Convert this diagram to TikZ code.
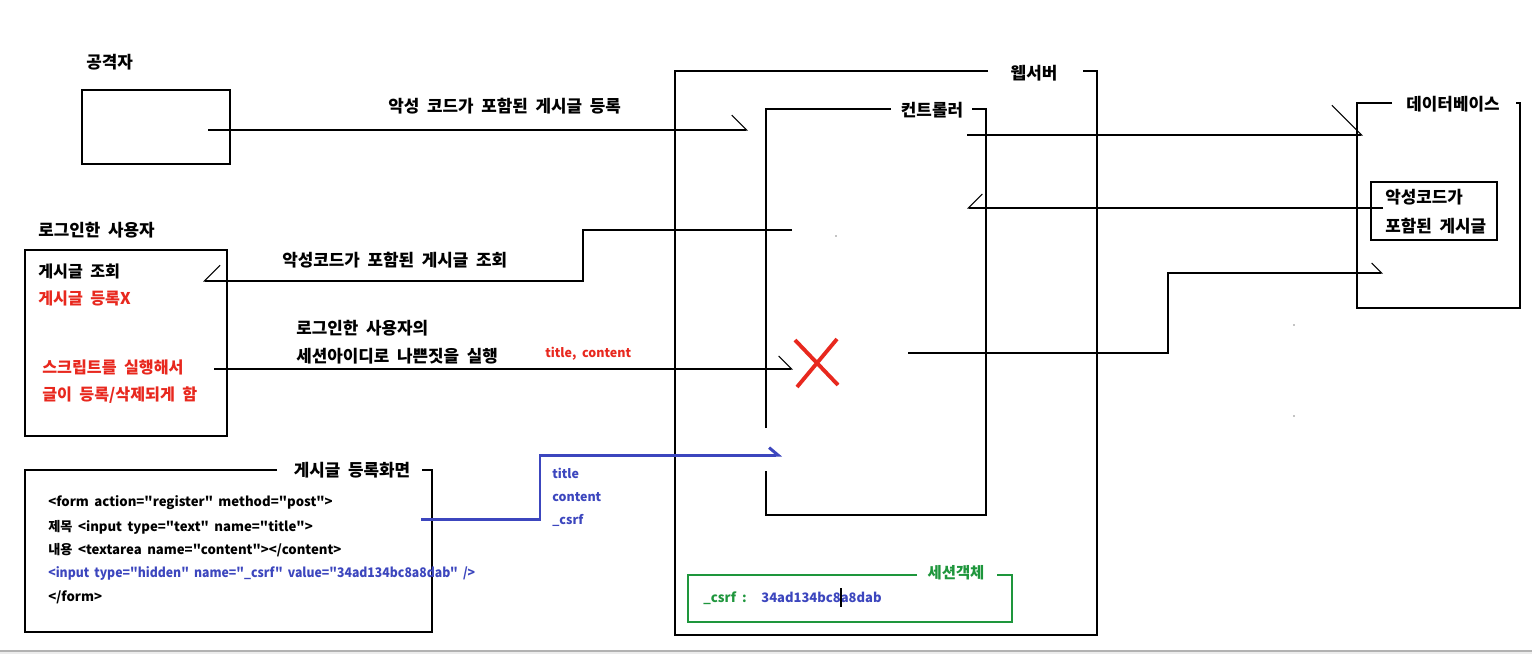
\documentclass[tikz,border=0pt]{standalone}
\usepackage{fontspec}
\setmainfont{Noto Sans CJK KR}[WordSpace=2]
\newfontfamily\codefont{Noto Sans CJK KR}[WordSpace=1.8]
\usetikzlibrary{arrows.meta,fit}
\definecolor{redx}{RGB}{232,40,30}
\definecolor{blu}{RGB}{60,70,190}
\definecolor{grn}{RGB}{30,150,60}
\begin{document}
\begin{tikzpicture}[x=0.02cm,y=-0.02cm,
  box/.style={draw,line width=0.7pt,inner sep=0pt},
  ln/.style={line width=0.6pt},
  kfont/.style={font=\bfseries\fontsize{9.6}{11}\selectfont},
  lbl/.style={inner sep=0pt,anchor=west,kfont},
  ttl/.style={inner sep=0pt,kfont},
  small/.style={inner sep=0pt,anchor=west,font=\codefont\bfseries\fontsize{7.5}{9}\selectfont},
  tiny/.style={inner sep=0pt,anchor=west,font=\bfseries\fontsize{7.1}{9}\selectfont},
  tipA/.style={-{Straight Barb[harpoon,length=#1,angle'=90]}},
  tipB/.style={-{Straight Barb[harpoon,swap,length=#1,angle'=90]}}
]
\useasboundingbox (0,0) rectangle (1532,654);
\fill[white] (0,0) rectangle (1532,654);
\draw[gray!60,line width=0.6pt] (0,651) -- (1532,651);
\fill[gray!15] (0,652) rectangle (1532,654);

% attacker
\node[lbl] (attl) at (86,62) {공격자};
\node[box,fit={(82,90)(230,164)}] (att) {};
\coordinate (a1) at (208,130);
\coordinate (a2) at (748,130);
\draw[ln,tipA=8.5pt] (a1) -- (a2);
\node[lbl] (m1) at (388,106) {악성 코드가 포함된 게시글 등록};

% web server
\draw[box] (988,71) -- (675,71) -- (675,635) -- (1097,635) -- (1097,71) -- (1083,71);
\node[ttl] (web) at (1034,73) {웹서버};

% controller
\draw[ln] (766,428) -- (766,109) -- (891,109);
\draw[ln] (972,109) -- (986,109) -- (986,515) -- (766,515) -- (766,471);
\node[ttl] (ctl) at (932,110) {컨트롤러};

% database
\draw[box] (1392,103) -- (1357,103) -- (1357,308) -- (1520,308) -- (1520,103) -- (1516,103);
\node[ttl] (dbt) at (1453,104) {데이터베이스};
\node[box,fit={(1371,182)(1497,240)}] (post) {};
\node[lbl] at (1385,197) {악성코드가};
\node[lbl] at (1385,226) {포함된 게시글};

% controller <-> database
\coordinate (c1) at (967,135);
\coordinate (d1) at (1363,135);
\draw[ln,tipA=17pt] (c1) -- (d1);
\coordinate (d2) at (1383,208);
\coordinate (c2) at (967,208);
\draw[ln,tipB=8pt] (d2) -- (c2);

% logged-in user
\node[lbl] (usl) at (38,230) {로그인한 사용자};
\node[box,fit={(25,250)(227,436)}] (user) {};
\node[lbl,font=\bfseries\fontsize{9.2}{11}\selectfont] at (38,271) {게시글 조회};
\node[lbl,font=\bfseries\fontsize{9.2}{11}\selectfont,text=redx] at (38,298) {게시글 등록X};
\node[lbl,font=\bfseries\fontsize{9.2}{11}\selectfont,text=redx] at (42,367) {스크립트를 실행해서};
\node[lbl,font=\bfseries\fontsize{9.2}{11}\selectfont,text=redx] at (42,395) {글이 등록/삭제되게 함};

% query arrow
\coordinate (q1) at (792,230);
\coordinate (q2) at (203,281);
\draw[ln,tipB=9pt] (q1) -- (583,230) -- (583,281) -- (q2);
\node[lbl] (m2) at (282,260) {악성코드가 포함된 게시글 조회};
\fill (836,236) circle (0.7);

% attack arrow
\coordinate (s1) at (214,369);
\coordinate (s2) at (793,369);
\draw[ln,tipA=7.4pt] (s1) -- (s2);
\node[lbl] (m3) at (296,328) {로그인한 사용자의};
\node[lbl] (m4) at (296,356) {세션아이디로 나쁜짓을 실행};
\node[tiny,text=redx] (tc) at (545,354) {title, content};
\draw[redx,line width=2.2pt] (795,340) -- (838,385) (837,339) -- (797,387);

% controller -> database (third)
\coordinate (x1) at (908,353);
\coordinate (d3) at (1383,273);
\draw[ln,tipA=5.7pt] (x1) -- (1168,353) -- (1168,273) -- (d3);
\fill (1294,325) circle (0.7);
\fill (1294,416) circle (0.7);

% form box
\draw[box] (277,470) -- (25,470) -- (25,632) -- (432,632) -- (432,470) -- (422,470);
\node[ttl] (fmt) at (352,470) {게시글 등록화면};
\node[small] at (48,503) {<form action="register" method="post">};
\node[small] at (48,527) {제목 <input type="text" name="title">};
\node[small] at (48,550) {내용 <textarea name="content"></content>};
\node[small,text=blu] at (48,573) {\scalebox{0.93}[1]{<input type="hidden" name="\_csrf" value="34ad134bc8a8dab" />}};
\node[small] at (48,597) {</form>};

% blue arrow
\coordinate (f1) at (421,519);
\coordinate (f2) at (782,455);
\draw[blu,line width=1.7pt,-{Straight Barb[harpoon,length=5pt,angle'=80]}] (f1) -- (540,519) -- (540,455) -- (f2);
\node[tiny,text=blu] at (552,473) {title};
\node[tiny,text=blu] at (552,497) {content};
\node[tiny,text=blu] at (552,520) {\_csrf};

% session object
\draw[grn,line width=1.6pt] (917,575) -- (688,575) -- (688,622) -- (1012,622) -- (1012,575) -- (997,575);
\node[ttl,text=grn,font=\bfseries\fontsize{8.8}{10}\selectfont] (ses) at (956,573) {세션객체};
\node[small,text=grn,font=\bfseries\fontsize{7.5}{9}\selectfont] at (703,598) {\_csrf :};
\node[small,text=blu,font=\bfseries\fontsize{7.4}{10}\selectfont] at (761,597) {34ad134bc8a8dab};
\draw[line width=0.6pt] (841,588) -- (841,607);
\end{tikzpicture}
\end{document}
